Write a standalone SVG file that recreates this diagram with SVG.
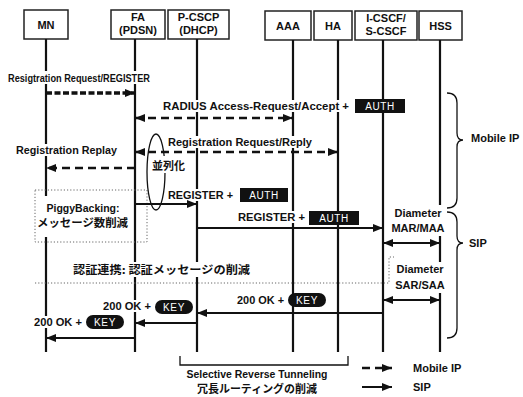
<svg xmlns="http://www.w3.org/2000/svg" width="523" height="397" viewBox="0 0 523 397">
<style>
text{font-family:"Liberation Sans","Noto Sans CJK JP",sans-serif;font-weight:bold;font-size:11px;fill:#111}
.m{font-size:11.5px}
.jp{font-family:"Noto Sans CJK JP",sans-serif;font-weight:bold}
.box{fill:#fff;stroke:#222;stroke-width:1.5}
.life{stroke:#111;stroke-width:2.2}
.bg{fill:#fff}
.badge{fill:#111}
.bt{fill:#fff;font-weight:normal;font-size:10px;letter-spacing:0.6px}
.c{text-anchor:middle}
.sol{stroke:#111;stroke-width:2;fill:none}
.dash{stroke:#111;stroke-width:2.6;stroke-dasharray:8 5;fill:none}
.dot{stroke:#111;stroke-width:3.6;stroke-dasharray:6 2.5;fill:none}
.thin{stroke:#111;stroke-width:1.3;fill:none}
.dotted{stroke:#666;stroke-width:1;stroke-dasharray:1.2 2;fill:none}
</style>
<defs>
<marker id="ah" viewBox="0 0 10 8" refX="10" refY="4" markerWidth="10" markerHeight="8" markerUnits="userSpaceOnUse" orient="auto-start-reverse"><path d="M0,0 L10,4 L0,8 z" fill="#111"/></marker>
</defs>
<rect width="523" height="397" fill="#fff"/>

<g id="node-MN"><rect class="box" x="24" y="10" width="44" height="29"/><text class="c" x="46" y="29">MN</text><line class="life" x1="46" y1="39" x2="46" y2="352"/></g>
<g id="node-FA"><rect class="box" x="111" y="10" width="54" height="29"/><text class="c" x="138" y="21">FA</text><text class="c" x="138" y="34">(PDSN)</text><line class="life" x1="135" y1="39" x2="135" y2="352"/></g>
<g id="node-PCSCP"><rect class="box" x="168" y="10" width="61" height="29"/><text class="c" x="198.5" y="21">P-CSCP</text><text class="c" x="198.5" y="34">(DHCP)</text><line class="life" x1="197" y1="39" x2="197" y2="352"/></g>
<g id="node-AAA"><rect class="box" x="265" y="11" width="46" height="29"/><text class="c" x="288" y="30">AAA</text><line class="life" x1="293" y1="40" x2="293" y2="352"/></g>
<g id="node-HA"><rect class="box" x="314" y="11" width="38" height="29"/><text class="c" x="333" y="30">HA</text><line class="life" x1="338" y1="40" x2="338" y2="352"/></g>
<g id="node-CSCF"><rect class="box" x="355" y="11" width="62" height="29"/><text class="c" x="386" y="22">I-CSCF/</text><text class="c" x="386" y="35">S-CSCF</text><line class="life" x1="383" y1="40" x2="383" y2="352"/></g>
<g id="node-HSS"><rect class="box" x="419" y="11" width="43" height="29"/><text class="c" x="440.5" y="30">HSS</text><line class="life" x1="440" y1="40" x2="440" y2="352"/></g>

<g id="annotations">
<rect class="dotted" x="35" y="190" width="112" height="52"/>
<polyline class="dotted" points="35,283 389,283 389,257 394,257"/>
<ellipse class="thin" cx="156" cy="172" rx="9" ry="38" stroke-width="1.6"/>
<path class="thin" d="M447,93 Q457,93 457,103 L457,133 Q457,140 463,140 Q457,140 457,147 L457,198 Q457,208 447,208"/>
<path class="thin" d="M447,212 Q457,212 457,222 L457,236 Q457,243 463,243 Q457,243 457,250 L457,328 Q457,338 447,338"/>
<polyline class="thin" points="180,356 180,365 348,365 348,356"/>
</g>

<g id="label-bgs">
<rect class="bg" x="7" y="71" width="144" height="13"/>
<rect class="bg" x="162" y="100" width="190" height="12"/>
<rect class="bg" x="167" y="136" width="146" height="12"/>
<rect class="bg" x="15" y="144" width="104" height="12"/>
<rect class="bg" x="150" y="156" width="43" height="17"/>
<rect class="bg" x="167" y="189" width="68" height="12"/>
<rect class="bg" x="237" y="211" width="70" height="12"/>
<rect class="bg" x="37" y="196" width="93" height="41"/>
<rect class="bg" x="72" y="262" width="180" height="15"/>
<rect class="bg" x="390" y="205" width="56" height="31"/>
<rect class="bg" x="392" y="262" width="54" height="31"/>
<rect class="bg" x="236" y="294" width="50" height="12"/>
<rect class="bg" x="102" y="300" width="50" height="12"/>
<rect class="bg" x="33" y="316" width="50" height="12"/>
</g>

<g id="connectors">
<line class="dot" x1="46" y1="93" x2="135" y2="93" marker-end="url(#ah)"/>
<line class="dash" x1="135" y1="118" x2="293" y2="118" marker-start="url(#ah)" marker-end="url(#ah)"/>
<line class="dash" x1="135" y1="152" x2="338" y2="152" marker-start="url(#ah)" marker-end="url(#ah)"/>
<line class="dash" x1="135" y1="168" x2="46" y2="168" marker-end="url(#ah)"/>
<line class="sol" x1="135" y1="204" x2="197" y2="204" marker-end="url(#ah)"/>
<line class="sol" x1="197" y1="228" x2="383" y2="228" marker-end="url(#ah)"/>
<line class="sol" x1="383" y1="243" x2="440" y2="243" marker-start="url(#ah)" marker-end="url(#ah)"/>
<line class="sol" x1="383" y1="300" x2="440" y2="300" marker-start="url(#ah)" marker-end="url(#ah)"/>
<line class="sol" x1="383" y1="313" x2="197" y2="313" marker-end="url(#ah)"/>
<line class="sol" x1="197" y1="323" x2="135" y2="323" marker-end="url(#ah)"/>
<line class="sol" x1="135" y1="338" x2="46" y2="338" marker-end="url(#ah)"/>
<line class="dash" x1="362" y1="368" x2="392" y2="368" marker-end="url(#ah)"/>
<line class="sol" x1="362" y1="387" x2="392" y2="387" marker-end="url(#ah)"/>
</g>

<g id="labels">
<text class="m" x="8" y="82" textLength="142" lengthAdjust="spacingAndGlyphs">Resigtration Request/REGISTER</text>
<text class="m" x="163" y="110" textLength="186" lengthAdjust="spacingAndGlyphs">RADIUS Access-Request/Accept +</text>
<rect class="badge" x="355" y="99" width="50" height="14"/><text class="bt c" x="380" y="110">AUTH</text>
<text class="m" x="168" y="146" textLength="144" lengthAdjust="spacingAndGlyphs">Registration Request/Reply</text>
<text class="m" x="16" y="154" textLength="101" lengthAdjust="spacingAndGlyphs">Registration Replay</text>
<text class="jp" x="152" y="170" font-size="13">並列化</text>
<text class="m" x="168" y="199" textLength="65" lengthAdjust="spacingAndGlyphs">REGISTER +</text>
<rect class="badge" x="240" y="188" width="48" height="14"/><text class="bt c" x="264" y="199">AUTH</text>
<text class="m" x="238" y="221" textLength="67" lengthAdjust="spacingAndGlyphs">REGISTER +</text>
<rect class="badge" x="309" y="211" width="50" height="14"/><text class="bt c" x="334" y="222">AUTH</text>
<text class="c" x="83" y="212" textLength="73" lengthAdjust="spacingAndGlyphs">PiggyBacking:</text>
<text class="jp" x="37" y="227" textLength="91" lengthAdjust="spacingAndGlyphs">メッセージ数削減</text>
<text class="jp" x="73" y="274" font-size="11.5" textLength="177" lengthAdjust="spacingAndGlyphs">認証連携: 認証メッセージの削減</text>
<text class="c" x="418" y="217">Diameter</text>
<text class="c" x="418" y="232">MAR/MAA</text>
<text class="c" x="420" y="273">Diameter</text>
<text class="c" x="420" y="289">SAR/SAA</text>
<text x="237" y="304" textLength="47" lengthAdjust="spacingAndGlyphs">200 OK +</text>
<rect class="badge" x="288" y="293" width="38" height="14" rx="7"/><text class="bt c" x="307" y="304">KEY</text>
<text x="103" y="310" textLength="48" lengthAdjust="spacingAndGlyphs">200 OK +</text>
<rect class="badge" x="155" y="300" width="38" height="14" rx="7"/><text class="bt c" x="174" y="311">KEY</text>
<text x="34" y="326" textLength="48" lengthAdjust="spacingAndGlyphs">200 OK +</text>
<rect class="badge" x="86" y="315" width="38" height="14" rx="7"/><text class="bt c" x="105" y="326">KEY</text>
<text x="471" y="142">Mobile IP</text>
<text x="469" y="247">SIP</text>
<text x="413" y="372">Mobile IP</text>
<text x="413" y="391">SIP</text>
<text class="c" x="257" y="378" textLength="141" lengthAdjust="spacingAndGlyphs">Selective Reverse Tunneling</text>
<text class="c jp" x="257" y="393" font-size="10.5" textLength="120" lengthAdjust="spacingAndGlyphs">冗長ルーティングの削減</text>
</g>
</svg>
